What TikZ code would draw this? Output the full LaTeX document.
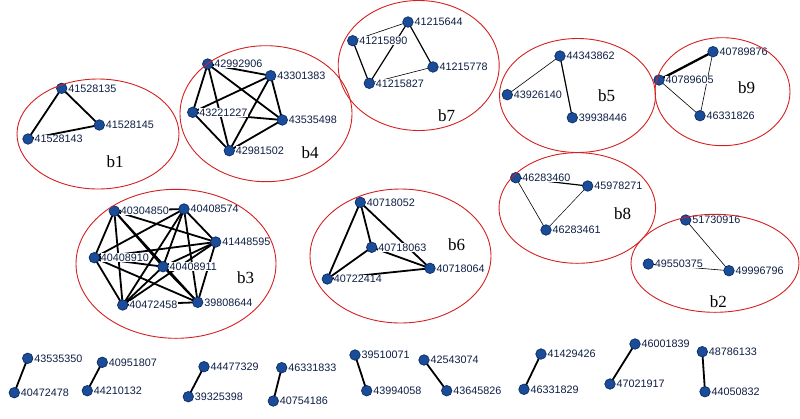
\documentclass[tikz,border=0pt]{standalone}
\usepackage{fontspec}
\setmainfont{Liberation Serif}
\newfontfamily\lblfont{Liberation Sans}
\definecolor{nodeblue}{HTML}{1A4C98}
\definecolor{nodeedge}{HTML}{0B2D66}
\definecolor{txtblue}{HTML}{0E1E44}
\definecolor{ringred}{HTML}{D42020}
\tikzset{
  vtx/.style={circle, fill=nodeblue, draw=nodeedge, line width=0.7pt, minimum size=10.5pt, inner sep=0pt},
  lbl/.style={fill=white, inner sep=0.4pt, text=txtblue, font=\lblfont\fontsize{10.8}{12}\selectfont, label distance=0.4pt},
  ring/.style={draw=ringred, line width=0.9pt},
  blabel/.style={font=\fontsize{17}{18}\selectfont, text=black},
  thickedge/.style={line width=1.8pt},
  midedge/.style={line width=1.2pt},
  thinedge/.style={line width=0.6pt}
}
\begin{document}
\begin{tikzpicture}[x=1pt,y=-1pt]
\useasboundingbox (0,0) rectangle (800,418);
% coordinates for nodes (defined first so edges can be drawn under them)
\foreach \x/\y/\n in {
 61.7/88.3/41528135, 99.3/125/41528145, 28/139/41528143,
 207.7/64/42992906, 270.7/75.7/43301383, 192.7/112.3/43221227, 282.3/120/43535498, 229.3/150.7/42981502,
 408/22/41215644, 352.7/40.7/41215890, 433/67/41215778, 369.3/83.3/41215827,
 560/56/44343862, 507.3/94.7/43926140, 572.3/117.7/39938446,
 713/51.7/40789876, 659/80/40789605, 700/115.7/46331826,
 114.3/211/40304850, 184/209/40408574, 215.7/242/41448595, 94.3/257.7/40408910, 163/266.7/40408911, 122.7/305/40472458, 197.7/302.3/39808644,
 360.3/202.3/40718052, 371.7/247.3/40718063, 430/268.3/40718064, 327.3/279/40722414,
 515.7/177.7/46283460, 587.7/186/45978271, 546/230/46283461,
 685.7/220/51730916, 648.3/264/49550375, 729/270.7/49996796,
 27.7/358.3/43535350, 14.3/392.7/40472478,
 102.3/362.3/40951807, 87.3/390.7/44210132,
 204/366.7/44477329, 188.3/396.7/39325398,
 281.7/367.7/46331833, 273.3/401/40754186,
 355/355/39510071, 366.7/390.7/43994058,
 424/360/42543074, 446.7/390.7/43645826,
 541/354/41429426, 524/389.3/46331829,
 635/344/46001839, 610/384/47021917,
 702.3/351.7/48786133, 705/391.7/44050832}
 {\coordinate (c\n) at (\x,\y);}
% edges
\begin{scope}[thickedge]
% b1
\draw (c41528135) -- (c41528143);
\draw (c41528135) -- (c41528145);
\draw (c41528143) -- (c41528145);
% b4 (K5)
\foreach \a/\b in {42992906/43301383,42992906/43221227,42992906/42981502,42992906/43535498,
  43301383/43221227,43301383/43535498,43301383/42981502,43221227/43535498,43221227/42981502,43535498/42981502}
  {\draw (c\a) -- (c\b);}
% b3 (K7)
\foreach \a/\b in {40304850/40408574,40304850/41448595,40304850/40408910,40304850/40408911,40304850/40472458,40304850/39808644,
  40408574/41448595,40408574/40408910,40408574/40408911,40408574/40472458,40408574/39808644,
  41448595/40408910,41448595/40408911,41448595/40472458,41448595/39808644,
  40408910/40408911,40408910/40472458,40408910/39808644,
  40408911/40472458,40408911/39808644,40472458/39808644}
  {\draw (c\a) -- (c\b);}
% b6 (K4)
\foreach \a/\b in {40718052/40718063,40718052/40722414,40718052/40718064,40718063/40722414,40718063/40718064,40722414/40718064}
  {\draw (c\a) -- (c\b);}
% b9 strong
\draw[line width=2.3pt] (c40789605) -- (c40789876);
% pairs
\foreach \a/\b in {43535350/40472478,40951807/44210132,44477329/39325398,46331833/40754186,39510071/43994058,
  42543074/43645826,41429426/46331829,46001839/47021917,48786133/44050832}
  {\draw (c\a) -- (c\b);}
\end{scope}
% b7
\draw[thinedge] (c41215890) -- (c41215644);
\draw[midedge] (c41215890) -- (c41215827);
\draw[midedge] (c41215644) -- (c41215827);
\draw[midedge] (c41215644) -- (c41215778);
\draw[thinedge] (c41215778) -- (c41215827);
% b5
\draw[thinedge] (c44343862) -- (c43926140);
\draw[midedge] (c44343862) -- (c39938446);
% b9
\draw[thinedge] (c40789605) -- (c46331826);
\draw[thinedge] (c40789876) -- (c46331826);
% b8
\draw[midedge] (c46283460) -- (c45978271);
\draw[thinedge] (c46283460) -- (c46283461);
\draw[line width=0.5pt] (c45978271) -- (c46283461);
% b2
\draw[thinedge] (c51730916) -- (c49996796);
\draw[thinedge] (c49550375) -- (c49996796);
% vertices with labels
\foreach \n in {41528135,41528145,41528143,42992906,43301383,43221227,43535498,42981502,
 41215644,41215890,41215778,41215827,44343862,43926140,39938446,40789876,40789605,46331826,
 40304850,40408574,41448595,40408910,40408911,40472458,39808644,
 40718052,40718063,40718064,40722414,46283460,45978271,46283461,51730916,49550375,49996796,
 43535350,40472478,40951807,44210132,44477329,39325398,46331833,40754186,39510071,43994058,
 42543074,43645826,41429426,46331829,46001839,47021917,48786133,44050832}
 {\node[vtx, label={[lbl]right:\n}] (n\n) at (c\n) {};}
% rings
\draw[ring] (98,134) ellipse [x radius=81, y radius=55];
\draw[ring] (266,113.7) ellipse [x radius=86, y radius=68];
\draw[ring] (418.7,65.5) ellipse [x radius=80.5, y radius=65];
\draw[ring] (577.5,95.5) ellipse [x radius=78, y radius=57];
\draw[ring] (722.5,91.7) ellipse [x radius=67.5, y radius=54];
\draw[ring] (176,263.8) ellipse [x radius=100, y radius=74.5];
\draw[ring] (400.5,256) ellipse [x radius=90.5, y radius=67];
\draw[ring] (577.3,208) ellipse [x radius=78.3, y radius=55.3];
\draw[ring] (715,263.3) ellipse [x radius=84, y radius=49];
% cluster labels
\node[blabel] (b1) at (115,162) {b1};
\node[blabel] (b4) at (310,152.7) {b4};
\node[blabel] (b7) at (446.7,116) {b7};
\node[blabel] (b5) at (606.7,95.7) {b5};
\node[blabel] (b9) at (746.7,87.3) {b9};
\node[blabel] (b3) at (245.7,277.3) {b3};
\node[blabel] (b6) at (456.7,245) {b6};
\node[blabel] (b8) at (622.7,213.3) {b8};
\node[blabel] (b2) at (718.3,301.7) {b2};
\end{tikzpicture}
\end{document}
